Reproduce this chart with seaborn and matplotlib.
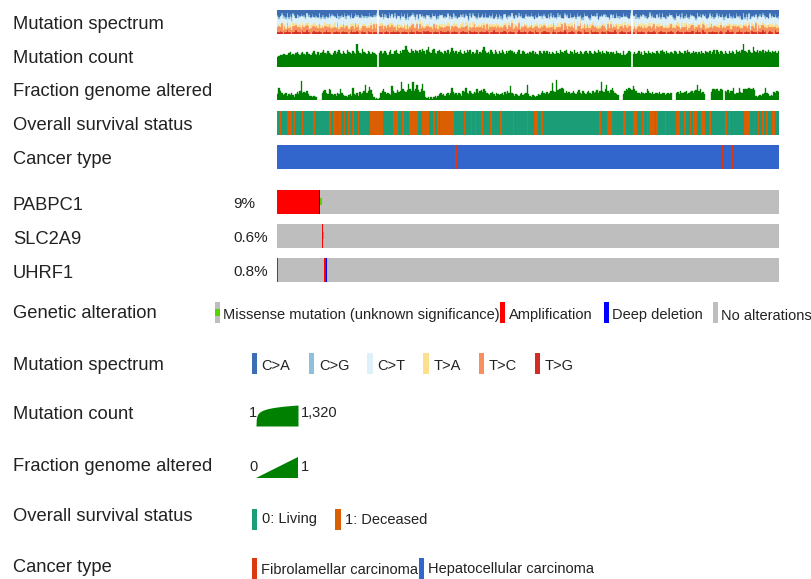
import numpy as np
import pandas as pd
import matplotlib
matplotlib.use("Agg")
import matplotlib.pyplot as plt
from matplotlib.colors import ListedColormap
from matplotlib.patches import Rectangle, Polygon
import seaborn as sns

# ---------------------------------------------------------------- data
N_SAMPLES = 360

track_labels = ["Mutation spectrum", "Mutation count", "Fraction genome altered",
                "Overall survival status", "Cancer type"]
genes = ["PABPC1", "SLC2A9", "UHRF1"]

# per-gene altered samples, by alteration type
amplification = {
    "PABPC1": [0, 1, 2, 3, 4, 5, 6, 7, 8, 9, 10, 11, 12, 13, 14, 15, 16, 17, 18, 19,
               20, 21, 22, 23, 24, 25, 26, 27, 28, 29],
    "SLC2A9": [32],
    "UHRF1": [0, 34],
}
deep_deletion = {"PABPC1": [30], "SLC2A9": [], "UHRF1": [35]}
missense_vus = {"PABPC1": [31], "SLC2A9": [33], "UHRF1": []}

# mutation count per sample (0 = not profiled)
mutation_count = [
    24, 31, 40, 35, 48, 62, 44, 36, 70, 85, 42, 58, 38, 66, 90, 47, 39, 72, 95, 55,
    43, 88, 60, 49, 41, 78, 120, 52, 45, 96, 38, 64, 110, 205, 74, 50, 130, 82, 61, 40,
    76, 140, 54, 92, 160, 66, 47, 118, 70, 58, 175, 98, 63, 52, 135, 80, 57, 1000, 125, 71,
    55, 240, 104, 68, 50, 150, 86, 57, 112, 73, 48, 36, 0, 69, 122, 51, 84, 138, 64, 45,
    90, 165, 62, 53, 115, 190, 74, 56, 145, 83, 170, 210, 650, 185, 108, 63, 230, 126, 79, 195,
    118, 67, 172, 88, 215, 131, 60, 180, 480, 105, 70, 160, 225, 82, 58, 128, 185, 94, 65, 50,
    142, 77, 176, 60, 101, 290, 152, 68, 115, 55, 96, 180, 72, 52, 130, 64, 168, 90, 205, 61,
    98, 50, 76, 175, 58, 108, 70, 190, 480, 124, 63, 92, 49, 160, 85, 60, 210, 104, 54, 138,
    72, 170, 96, 57, 142, 80, 118, 205, 155, 66, 102, 55, 88, 168, 62, 48, 130, 93, 56, 76,
    50, 112, 68, 150, 57, 98, 61, 45, 128, 82, 53, 120, 70, 145, 59, 94, 47, 110, 66, 52,
    134, 84, 58, 160, 96, 68, 122, 170, 80, 56, 148, 92, 61, 175, 74, 110, 54, 130, 86, 58,
    106, 150, 70, 51, 124, 82, 59, 140, 90, 64, 165, 98, 53, 128, 75, 57, 146, 88, 62, 112,
    70, 96, 54, 132, 80, 48, 64, 42, 118, 36, 56, 72, 150, 90, 0, 60, 104, 49, 76, 126,
    58, 88, 44, 116, 70, 53, 140, 82, 60, 102, 66, 50, 124, 74, 56, 150, 165, 92, 62, 120,
    78, 57, 110, 68, 50, 128, 86, 59, 155, 96, 64, 48, 118, 72, 170, 100, 56, 80, 140, 66,
    112, 60, 94, 52, 134, 80, 58, 148, 98, 66, 126, 54, 88, 160, 62, 160, 104, 58, 150, 92,
    56, 130, 80, 52, 120, 68, 150, 96, 60, 175, 86, 138, 70, 195, 1320, 146, 92, 64, 168, 108,
    76, 390, 126, 90, 160, 68, 145, 98, 185, 72, 132, 88, 170, 114, 66, 155, 100, 142, 82, 130,
]

fraction_genome_altered = [
    .29, .55, .39, .34, .23, .26, .31, .21, .27, .25, .33, .22, .16, .26, .36, .29, .39, .83, .34, .36,
    .31, .39, .29, .20, .18, .16, .21, .17, .13, 0, 0, 0, .31, .39, .45, .34, .29, .48, .46, .26,
    .23, .29, .21, .31, .26, .50, .34, .23, .18, .21, .16, .23, .26, .18, .55, .29, .23, .33, .21, .36,
    .26, .31, .39, .68, .34, .42, .57, .44, .29, .13, .08, .10, .07, .09, .31, .39, .50, .36, .26, .34,
    .29, .23, .60, .39, .34, .31, .44, .36, .42, .78, .47, .39, .36, .44, .72, .48, .42, .78, .39, .47,
    .68, .44, .36, .49, .70, .42, .16, .10, .13, .08, .16, .07, .13, .18, .10, .21, .26, .31, .23, .29,
    .21, .26, .34, .23, .31, .55, .36, .26, .31, .23, .34, .29, .21, .39, .36, .55, .31, .26, .39, .34,
    .29, .36, .31, .50, .34, .39, .44, .36, .48, .42, .34, .29, .23, .31, .36, .26, .21, .34, .29, .23,
    .26, .31, .23, .36, .29, .39, .34, .60, .31, .26, .21, .29, .23, .18, .26, .31, .23, .29, .34, .64,
    .26, .21, .16, .23, .18, .13, .21, .29, .23, .34, .39, .31, .26, .36, .29, .34, .42, .74, .39, .36,
    .88, .44, .50, .47, .52, .49, .34, .39, .31, .36, .29, .34, .39, .31, .26, .36, .44, .34, .29, .39,
    .31, .26, .36, .42, .34, .29, .39, .31, .36, .44, .34, .39, .78, .42, .36, .47, .68, .39, .34, .44,
    .55, .39, .34, .26, .23, 0, 0, 0, .29, .39, .50, .46, .52, .48, .46, .60, .47, .39, .31, .34,
    .29, .36, .31, .26, .34, .50, .39, .31, .29, .36, .26, .34, .31, .29, .36, .26, .31, .34, .23, .29,
    .31, .26, .34, 0, 0, 0, .31, .36, .29, .39, .34, .31, .36, .39, .29, .34, .36, .42, .34, .39,
    .44, .64, .39, .47, .34, .36, .29, 0, 0, 0, 0, .36, .50, .48, .44, .49, .42, .39, .47, .44,
    0, .39, .36, .44, .34, .39, .42, .52, .29, .34, .31, .52, .36, .31, .48, .50, .47, .48, .52, .48,
    .47, .52, .44, .21, .16, .18, .23, .21, .29, .31, .52, .34, .26, .18, .23, .21, .36, .34, .39, .36,
]

# mutation spectrum: relative weight of each substitution class per sample
spectrum_classes = ["C>A", "C>G", "C>T", "T>A", "T>C", "T>G"]
spectrum_text = {
    "C>A": """
3542346253 4245336243 5243526344 2534635243 3462543524 3362542435
2435362453 4263425346 2435264352 4362543245 3624356243 5243652434
4624352436 5243524635 2436245342 5634254362 5432643524 6352435624
3524635243 5264352435 6243562435 2643524365 2435624352 6435243562
4352463524 3562435264 3524365243 5624352463 5243652435 2643562435
6243524365 2435624352 6435246352 4356243526 4352643524 3562435264""",
    "C>G": """
1101211011 2110121101 1012110211 0112101121 1101211012 1121011101
2110112101 1211011210 1101211012 1011210112 1101121011 2101121011
1012110211 0112110121 1011211012 1101211011 2110121101 1012110211
1121011101 2110112101 1211011210 1101211012 1011210112 1101121011
2101121011 1012110211 0112110121 1011211012 1101211011 2110121101
1012110211 1121011101 2110112101 1211011210 1101211012 1011210112""",
    "C>T": """
5464537456 4563746545 3647546354 7456345647 5463745364 5746354657
4635476453 6475364574 5364756435 6745463574 5636475463 5746354765
4653746534 7564635476 4536745637 4654735646 5374563746 4563745346
5746354764 5364756435 6475364574 5463745364 5746354657 4635476453
6745463574 5636475463 5746354765 4653746534 7564635476 4536745637
4654735646 5374563746 4563745346 5464537456 4563746545 3647546354""",
    "T>A": """
2121321212 1321213121 2131212312 1212312131 2312121321 2131231212
1213121231 3121213121 2312131212 1231213121 2121312123 1212131231
2131212312 1213121231 3121212312 1312121321 2121312121 3121231212
1231212131 2121312123 1213121231 2312131212 1212312131 2131231212
2121321212 1321213121 2131212312 1212312131 2312121321 2131231212
1213121231 3121213121 2312131212 1231213121 2121312123 1212131231""",
    "T>C": """
3435243534 2453435243 4352435342 5343524534 3425343524 4353425343
2435342534 3524353425 4353425243 3425343534 5243534243 4352534342
3534243534 4253435243 3524534342 5343524353 4243534352 3435243534
2453435243 4352435342 5343524534 3425343524 4353425343 2435342534
3524353425 4353425243 3425343534 5243534243 4352534342 3534243534
4253435243 3524534342 5343524353 4243534352 3435243534 2453435243""",
    "T>G": """
1121011211 0112111021 1211012111 2101121110 1121101211 1012111210
1211021101 1121110121 0112112101 1211012110 2111021121 1012110211
1121011211 0112111021 1211012111 2101121110 1121101211 1012111210
1211021101 1121110121 0112112101 1211012110 2111021121 1012110211
1121011211 0112111021 1211012111 2101121110 1121101211 1012111210
1211021101 1121110121 0112112101 1211012110 2111021121 1012110211""",
}

# overall survival status per sample: 0 = living, 1 = deceased
survival_text = """
0010000111 1010000010 0000001000 0000000110 1110110010 0100100010
0000000111 1111110000 0001111000 1000011111 1000111110 0010010111
1111111000 0000100001 0010001100 0001000000 1000000001 0000000001
0000111001 1000000000 0000000000 0000000000 0000000000 0100000111
0000000011 0000011100 0010010111 1010000010 0000001110 0010001011
1000111000 1000000000 0110100000 0000011110 0000010010 0100011000"""
survival_labels = ["0: Living", "1: Deceased"]

# cancer type per sample: F = fibrolamellar, H = hepatocellular
cancer_text = """
HHHHHHHHHH HHHHHHHHHH HHHHHHHHHH HHHHHHHHHH HHHHHHHHHH HHHHHHHHHH
HHHHHHHHHH HHHHHHHHHH HHHHHHHHHH HHHHHHHHHH HHHHHHHHHH HHHHHHHHHH
HHHHHHHHFH HHHHHHHHHH HHHHHHHHHH HHHHHHHHHH HHHHHHHHHH HHHHHHHHHH
HHHHHHHHHH HHHHHHHHHH HHHHHHHHHH HHHHHHHHHH HHHHHHHHHH HHHHHHHHHH
HHHHHHHHHH HHHHHHHHHH HHHHHHHHHH HHHHHHHHHH HHHHHHHHHH HHHHHHHHHH
HHHHHHHHHH HHHHHHHHHF HHHHHHFHHH HHHHHHHHHH HHHHHHHHHH HHHHHHHHHH"""
cancer_labels = ["Fibrolamellar carcinoma", "Hepatocellular carcinoma"]
cancer_codes = ["F", "H"]

alteration_labels = ["Missense mutation (unknown significance)", "Amplification",
                     "Deep deletion", "No alterations"]

# ---------------------------------------------------------------- styling
SPECTRUM_COLORS = ["#3D6EB4", "#8EBFDC", "#DFF1F8", "#FCE08E", "#F78F5E", "#D62B23"]
GREEN = "#008000"
LIVING, DECEASED = "#1B9E77", "#D95F02"
FIBRO, HEPATO = "#DC3912", "#3366CC"
GRAY, AMP, DEL, VUS = "#BEBEBE", "#FF0000", "#0000FF", "#53D400"
TEXT = "#222222"

FIG_W, FIG_H = 812, 579
TRACK_X, TRACK_W, TRACK_H = 277, 502, 23.5
CLIN_TOPS = [10, 43.5, 77, 111, 145]
GENE_TOPS = [190, 224, 258]
LABEL_FS, PCT_FS, ITEM_FS = 13.2, 11, 10.5


def chars(block):
    return "".join(block.split())


spectrum = {c: [int(d) for d in chars(spectrum_text[c])] for c in spectrum_classes}
survival = [int(d) for d in chars(survival_text)]
cancer = [cancer_codes.index(d) for d in chars(cancer_text)]
for seq in [mutation_count, fraction_genome_altered, survival, cancer, *spectrum.values()]:
    assert len(seq) == N_SAMPLES, len(seq)

sns.set_theme(style="white")
plt.rcParams["font.family"] = ["Liberation Sans", "DejaVu Sans"]

fig = plt.figure(figsize=(FIG_W / 100, FIG_H / 100), dpi=100)


def px_axes(x, y, w, h):
    return fig.add_axes([x / FIG_W, 1 - (y + h) / FIG_H, w / FIG_W, h / FIG_H])


def seal_edges(ax, color=None):
    # paint each bar's outline in its own colour so neighbouring bars join
    for p in ax.patches:
        if p.get_height() > 0:
            p.set_edgecolor(color if color else p.get_facecolor())
            p.set_linewidth(0.25)


samples = np.arange(N_SAMPLES)

# --- mutation spectrum (stacked to 100%)
ax = px_axes(TRACK_X, CLIN_TOPS[0], TRACK_W, TRACK_H)
rows = [(i, c, spectrum[c][i]) for i in samples if mutation_count[i] > 0
        for c in spectrum_classes]
spec_df = pd.DataFrame(rows, columns=["sample", "class", "weight"])
sns.histplot(data=spec_df, x="sample", weights="weight", hue="class",
             hue_order=spectrum_classes, palette=dict(zip(spectrum_classes, SPECTRUM_COLORS)),
             multiple="fill", discrete=True, shrink=1, alpha=1, linewidth=0,
             legend=False, ax=ax)
seal_edges(ax)
ax.set_xlim(-0.5, N_SAMPLES - 0.5)
ax.set_ylim(0, 1)
ax.set_axis_off()

# --- mutation count (log scale)
ax = px_axes(TRACK_X, CLIN_TOPS[1], TRACK_W, TRACK_H)
mc_df = pd.DataFrame({"sample": samples, "count": mutation_count})
mc_df = mc_df[mc_df["count"] > 0]
sns.histplot(data=mc_df, x="sample", weights="count", discrete=True, shrink=1,
             color=GREEN, alpha=1, linewidth=0, ax=ax)
seal_edges(ax, GREEN)
ax.set_yscale("log")
ax.set_ylim(1, 1320)
ax.set_xlim(-0.5, N_SAMPLES - 0.5)
ax.set_axis_off()

# --- fraction genome altered
ax = px_axes(TRACK_X, CLIN_TOPS[2], TRACK_W, TRACK_H)
fga_df = pd.DataFrame({"sample": samples, "fga": fraction_genome_altered})
sns.histplot(data=fga_df, x="sample", weights="fga", discrete=True, shrink=1,
             color=GREEN, alpha=1, linewidth=0, ax=ax)
seal_edges(ax, GREEN)
ax.set_ylim(0, 1)
ax.set_xlim(-0.5, N_SAMPLES - 0.5)
ax.set_axis_off()

# --- overall survival status
ax = px_axes(TRACK_X, CLIN_TOPS[3], TRACK_W, TRACK_H)
sns.heatmap(np.array([survival]), ax=ax, cmap=ListedColormap([LIVING, DECEASED]),
            vmin=-0.5, vmax=1.5, cbar=False, xticklabels=False, yticklabels=False)
ax.set_axis_off()

# --- cancer type
ax = px_axes(TRACK_X, CLIN_TOPS[4], TRACK_W, TRACK_H)
sns.heatmap(np.array([cancer]), ax=ax, cmap=ListedColormap([FIBRO, HEPATO]),
            vmin=-0.5, vmax=1.5, cbar=False, xticklabels=False, yticklabels=False)
ax.set_axis_off()

# --- gene alteration rows
for gene, top in zip(genes, GENE_TOPS):
    ax = px_axes(TRACK_X, top, TRACK_W, TRACK_H)
    codes = np.zeros(N_SAMPLES, dtype=int)
    codes[amplification[gene]] = 1
    codes[deep_deletion[gene]] = 2
    sns.heatmap(codes[None, :], ax=ax, cmap=ListedColormap([GRAY, AMP, DEL]),
                vmin=-0.5, vmax=2.5, cbar=False, xticklabels=False, yticklabels=False)
    vus = missense_vus[gene]
    if vus:
        ax.bar(np.array(vus) + 0.5, 0.3, bottom=0.35, width=1, color=VUS, linewidth=0)
    ax.set_axis_off()

# --- labels and legends
ov = fig.add_axes([0, 0, 1, 1], zorder=-1)
ov.set_xlim(0, FIG_W)
ov.set_ylim(FIG_H, 0)
ov.set_axis_off()

for label, top in zip(track_labels, CLIN_TOPS):
    ov.text(13, top + 19.3, label, fontsize=LABEL_FS, color=TEXT, va="baseline")
for gene, top in zip(genes, GENE_TOPS):
    ov.text(13, top + 19.8, gene, fontsize=LABEL_FS, color=TEXT, va="baseline")
    altered = set(amplification[gene]) | set(deep_deletion[gene]) | set(missense_vus[gene])
    pct = 100 * len(altered) / N_SAMPLES
    pct_txt = f"{pct:.0f}%" if pct >= 1 else f"{pct:.1f}%"
    ov.text(233, top + 18.5, pct_txt, fontsize=PCT_FS, color=TEXT, va="baseline")

legend_rows = ["Genetic alteration", "Mutation spectrum", "Mutation count",
               "Fraction genome altered", "Overall survival status", "Cancer type"]
legend_base = [318.5, 369.5, 419, 471, 521, 572]
for label, base in zip(legend_rows, legend_base):
    ov.text(13, base, label, fontsize=LABEL_FS, color=TEXT, va="baseline")

SW_W, SW_H = 5.5, 21


def swatch(x, top, color, text, text_dx=8.5, base_dy=17.5):
    ov.add_patch(Rectangle((x, top), SW_W, SW_H, facecolor=color, edgecolor="none"))
    ov.text(x + text_dx, top + base_dy, text, fontsize=ITEM_FS, color=TEXT,
            va="baseline")


# genetic alteration
ga_top = 302
ov.add_patch(Rectangle((215, ga_top), SW_W, SW_H, facecolor=GRAY, edgecolor="none"))
ov.add_patch(Rectangle((215, ga_top + 6.5), SW_W, 7.5, facecolor=VUS, edgecolor="none"))
ov.text(223.5, ga_top + 17.5, alteration_labels[0], fontsize=ITEM_FS, color=TEXT,
        va="baseline")
for x, color, text in zip([500, 604, 713], [AMP, DEL, GRAY], alteration_labels[1:]):
    swatch(x, ga_top, color, text)

# mutation spectrum
for x, color, text in zip([251.7, 309, 367.3, 423.3, 479, 535], SPECTRUM_COLORS,
                          spectrum_classes):
    swatch(x, 353, color, text, text_dx=10)

# mutation count (log-scaled ramp)
mc_max = max(mutation_count)
v = np.linspace(1, mc_max, 200)
xs = 256 + (v - 1) / (mc_max - 1) * 42
ys = 426 - np.log(v) / np.log(mc_max) * 21
ov.fill_between(xs, 426, ys, color=GREEN, linewidth=0)
ov.text(249, 417, "1", fontsize=ITEM_FS, color=TEXT, va="baseline")
ov.text(300.5, 417, f"{mc_max:,}", fontsize=ITEM_FS, color=TEXT, va="baseline")

# fraction genome altered (linear ramp)
ov.add_patch(Polygon([(256, 478), (298, 478), (298, 457)], closed=True,
                     facecolor=GREEN, edgecolor="none"))
ov.text(249, 471, "0", fontsize=ITEM_FS, color=TEXT, va="baseline")
ov.text(301, 471, "1", fontsize=ITEM_FS, color=TEXT, va="baseline")

# overall survival status
for x, color, text in zip([251.7, 335.5], [LIVING, DECEASED], survival_labels):
    swatch(x, 509, color, text, text_dx=10, base_dy=14.5)

# cancer type
for x, color, text in zip([251.7, 419], [FIBRO, HEPATO], cancer_labels):
    swatch(x, 558, color, text, text_dx=9.5, base_dy=15.5)

fig.savefig("out.png", dpi=100)
